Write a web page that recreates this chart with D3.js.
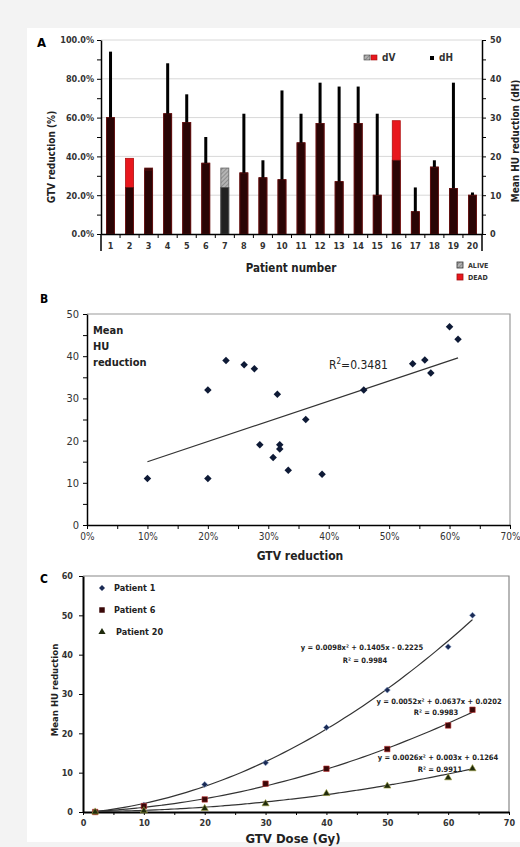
<!DOCTYPE html>
<html>
<head>
<meta charset="utf-8">
<script src="https://cdn.jsdelivr.net/npm/d3@7"></script>
<style>
  body { margin: 0; background: #f3f3f3; }
  svg { display: block; }
  text { font-family: "DejaVu Sans Condensed", "Liberation Sans Narrow", "DejaVu Sans", sans-serif; }
</style>
</head>
<body>
<div id="chart"></div>
<script>
// Panel A data: GTV reduction (%) and mean HU reduction per patient
var patientNo = ["1","2","3","4","5","6","7","8","9","10","11","12","13","14","15","16","17","18","19","20"];
var dvPct = [60, 39, 34, 62, 57.5, 36.5, 34, 31.5, 29, 28, 47, 57, 27, 57, 20, 58.4, 11.5, 34.5, 23.5, 20];
var dhHU = [47, 12, 16.5, 44, 36, 25, 12, 31, 19, 37, 31, 39, 38, 38, 31, 19, 12, 19, 39, 10.7];
var patientStatus = ["", "dead", "", "", "", "", "alive", "", "", "", "", "", "", "", "", "dead", "", "", "", ""];

// Panel B data: scatter GTV reduction vs mean HU reduction
var gtvRed = [10, 20, 20, 23, 26, 27.7, 31.5, 28.6, 30.8, 31.9, 31.9, 36.2, 33.3, 38.9, 45.8, 53.9, 55.9, 56.9, 60, 61.4];
var huRed = [11, 32, 11, 39, 38, 37, 31, 19, 16, 19, 18, 25, 13, 12, 32, 38.2, 39.1, 36, 47, 44];
var trendFit = [10.2, 0.479]; // intercept, slope
var trendRange = [10, 61.4];

// Panel C data: HU reduction vs dose
var dose = [2, 10, 20, 30, 40, 50, 60, 64];
var patient1 = [0, 1.8, 7, 12.5, 21.5, 31, 42, 50];
var patient6 = [0, 1.5, 3.2, 7.2, 11, 16, 22, 26];
var patient20 = [0, 0.3, 0.9, 2.1, 4.7, 6.6, 8.7, 11];
var fit1 = [0.0098, 0.1405, -0.2225];
var fit6 = [0.0052, 0.0637, 0.0202];
var fit20 = [0.0026, 0.003, 0.1264];
var eqLabels = [
  ["y = 0.0098x\u00b2 + 0.1405x - 0.2225", "R\u00b2 = 0.9984"],
  ["y = 0.0052x\u00b2 + 0.0637x + 0.0202", "R\u00b2 = 0.9983"],
  ["y = 0.0026x\u00b2 + 0.003x + 0.1264", "R\u00b2 = 0.9911"]
];

var svgWidth = 520;
var svgHeight = 847;

var svg = d3.select("#chart")
  .append("svg")
  .attr("width", svgWidth)
  .attr("height", svgHeight);

svg.append("rect")
  .attr("x", 27).attr("y", 28)
  .attr("width", 493).attr("height", 814)
  .attr("fill", "#ffffff");

var defs = svg.append("defs");
var hatch = defs.append("pattern")
  .attr("id", "hatch")
  .attr("width", 3).attr("height", 3)
  .attr("patternUnits", "userSpaceOnUse")
  .attr("patternTransform", "rotate(45)");
hatch.append("rect").attr("width", 3).attr("height", 3).attr("fill", "#b4b4b4");
hatch.append("line").attr("x1", 0).attr("y1", 0).attr("x2", 0).attr("y2", 3)
  .attr("stroke", "#666").attr("stroke-width", 1);

function styleAxis(g, size, weight, color) {
  g.selectAll("text")
    .attr("font-size", size)
    .attr("font-weight", weight)
    .attr("fill", color);
  g.selectAll("line").attr("stroke", "#000");
}

// ---------------- Panel A ----------------
var aX = d3.scaleBand().domain(patientNo).range([101, 482]);
var aY = d3.scaleLinear().domain([0, 100]).range([234, 40]);
var aY2 = d3.scaleLinear().domain([0, 50]).range([234, 40]);

var panelA = svg.append("g");

// gridlines
panelA.selectAll(".gridA")
  .data([20, 40, 60, 80, 100])
  .enter()
  .append("line")
  .attr("x1", 101).attr("x2", 482)
  .attr("y1", d => aY(d)).attr("y2", d => aY(d))
  .attr("stroke", "#d8d8d8")
  .attr("stroke-width", 1);

var barGroup = panelA.selectAll(".bar")
  .data(patientNo.map((p, i) => ({ p: p, dv: dvPct[i], dh: dhHU[i] * 2, s: patientStatus[i] })))
  .enter()
  .append("g");

var wideW = 8, thinW = 3;

barGroup.append("rect")
  .attr("x", d => aX(d.p) + aX.bandwidth() / 2 - wideW / 2)
  .attr("width", wideW)
  .attr("y", d => aY(d.dv))
  .attr("height", d => aY(0) - aY(d.dv))
  .attr("fill", d => d.s === "dead" ? "#e8171d" : (d.s === "alive" ? "url(#hatch)" : "#2a0505"))
  .attr("stroke", d => d.s === "dead" ? "#b01010" : (d.s === "alive" ? "#666" : "#6a1414"))
  .attr("stroke-width", 0.8);

barGroup.append("rect")
  .attr("x", d => aX(d.p) + aX.bandwidth() / 2 - wideW / 2)
  .attr("width", wideW)
  .attr("y", d => aY(Math.min(d.dv, d.dh)))
  .attr("height", d => aY(0) - aY(Math.min(d.dv, d.dh)))
  .attr("fill", d => d.s === "alive" ? "#222" : "#2a0505")
  .attr("stroke", d => d.s === "alive" ? "#555" : "#6a1414")
  .attr("stroke-width", 0.8);

barGroup.filter(d => d.dh > d.dv)
  .append("rect")
  .attr("x", d => aX(d.p) + aX.bandwidth() / 2 - thinW / 2)
  .attr("width", thinW)
  .attr("y", d => aY(d.dh))
  .attr("height", d => aY(d.dv) - aY(d.dh))
  .attr("fill", "#000");

// axes
var leftAxisA = panelA.append("g")
  .attr("transform", "translate(101,0)")
  .call(d3.axisLeft(aY)
    .tickValues([0, 10, 20, 30, 40, 50, 60, 70, 80, 90, 100])
    .tickFormat(d => d % 20 === 0 ? d.toFixed(1) + "%" : "")
    .tickSize(4)
    .tickSizeOuter(0)
    .tickPadding(3));
leftAxisA.select(".domain").attr("stroke-width", 1.5);
styleAxis(leftAxisA, 9, "bold", "#333");

var rightAxisA = panelA.append("g")
  .attr("transform", "translate(482,0)")
  .call(d3.axisRight(aY2)
    .tickValues([0, 5, 10, 15, 20, 25, 30, 35, 40, 45, 50])
    .tickFormat(d => d % 10 === 0 ? d : "")
    .tickSize(4)
    .tickSizeOuter(0)
    .tickPadding(4));
rightAxisA.select(".domain").attr("stroke-width", 1.5);
styleAxis(rightAxisA, 9, "bold", "#333");

// extend the two vertical axes below zero
panelA.selectAll(".axisExt")
  .data([101, 482])
  .enter()
  .append("line")
  .attr("x1", d => d).attr("x2", d => d)
  .attr("y1", 234).attr("y2", 251)
  .attr("stroke", "#000").attr("stroke-width", 1.5);

var bottomAxisA = panelA.append("g")
  .attr("transform", "translate(0,234)")
  .call(d3.axisBottom(aX).tickSize(0).tickPadding(9));
bottomAxisA.select(".domain").attr("stroke-width", 1.5);
styleAxis(bottomAxisA, 9, "bold", "#333");

panelA.selectAll(".bandTick")
  .data(patientNo.slice(1))
  .enter()
  .append("line")
  .attr("x1", d => aX(d)).attr("x2", d => aX(d))
  .attr("y1", 234).attr("y2", 238)
  .attr("stroke", "#000");

panelA.append("text")
  .attr("x", 37).attr("y", 47)
  .attr("font-size", 13).attr("font-weight", "bold")
  .text("A");

panelA.append("text")
  .attr("transform", "translate(55,157) rotate(-90)")
  .attr("text-anchor", "middle")
  .attr("font-size", 10).attr("font-weight", "bold").attr("fill", "#222")
  .text("GTV reduction (%)");

panelA.append("text")
  .attr("transform", "translate(519,141) rotate(-90)")
  .attr("text-anchor", "middle")
  .attr("font-size", 10).attr("font-weight", "bold").attr("fill", "#222")
  .text("Mean HU reduction (dH)");

panelA.append("text")
  .attr("x", 291).attr("y", 272)
  .attr("text-anchor", "middle")
  .attr("font-size", 11.5).attr("font-weight", "bold").attr("fill", "#222")
  .text("Patient number");

// legend dV / dH
panelA.append("rect").attr("x", 364).attr("y", 55).attr("width", 6).attr("height", 5)
  .attr("fill", "url(#hatch)").attr("stroke", "#444").attr("stroke-width", 0.6);
panelA.append("rect").attr("x", 371).attr("y", 55).attr("width", 6).attr("height", 5)
  .attr("fill", "#e8171d").attr("stroke", "#a01010").attr("stroke-width", 0.6);
panelA.append("text").attr("x", 382).attr("y", 61)
  .attr("font-size", 10).attr("font-weight", "bold").attr("fill", "#333").text("dV");
panelA.append("rect").attr("x", 430).attr("y", 56).attr("width", 4).attr("height", 4).attr("fill", "#000");
panelA.append("text").attr("x", 439).attr("y", 61)
  .attr("font-size", 10).attr("font-weight", "bold").attr("fill", "#333").text("dH");

// legend ALIVE / DEAD
panelA.append("rect").attr("x", 457).attr("y", 262).attr("width", 6).attr("height", 6)
  .attr("fill", "url(#hatch)").attr("stroke", "#333").attr("stroke-width", 0.8);
panelA.append("text").attr("x", 468).attr("y", 268)
  .attr("font-size", 7).attr("font-weight", "bold").attr("fill", "#333").text("ALIVE");
panelA.append("rect").attr("x", 457).attr("y", 274).attr("width", 6).attr("height", 6)
  .attr("fill", "#e8171d").attr("stroke", "#a01010").attr("stroke-width", 0.8);
panelA.append("text").attr("x", 468).attr("y", 280)
  .attr("font-size", 7).attr("font-weight", "bold").attr("fill", "#333").text("DEAD");

// ---------------- Panel B ----------------
var bX = d3.scaleLinear().domain([0, 70]).range([87, 510]);
var bY = d3.scaleLinear().domain([0, 50]).range([525, 314]);

var panelB = svg.append("g");

panelB.append("path")
  .attr("d", `M${bX(0)},${bY(50)}H${bX(70)}V${bY(0)}`)
  .attr("fill", "none").attr("stroke", "#999").attr("stroke-width", 1.2);

var leftAxisB = panelB.append("g")
  .attr("transform", `translate(${bX(0)},0)`)
  .call(d3.axisLeft(bY)
    .tickValues([0, 5, 10, 15, 20, 25, 30, 35, 40, 45, 50])
    .tickFormat(d => d % 10 === 0 ? d : "")
    .tickSize(4).tickSizeOuter(0).tickPadding(4));
leftAxisB.select(".domain").attr("stroke-width", 1.5);
styleAxis(leftAxisB, 11, "normal", "#333");

var bottomAxisB = panelB.append("g")
  .attr("transform", `translate(0,${bY(0)})`)
  .call(d3.axisBottom(bX)
    .tickValues([0, 5, 10, 15, 20, 25, 30, 35, 40, 45, 50, 55, 60, 65, 70])
    .tickFormat(d => d % 10 === 0 ? d + "%" : "")
    .tickSize(4).tickSizeOuter(0).tickPadding(4));
bottomAxisB.select(".domain").attr("stroke-width", 1.5);
styleAxis(bottomAxisB, 10, "normal", "#333");

panelB.append("line")
  .attr("x1", bX(trendRange[0])).attr("x2", bX(trendRange[1]))
  .attr("y1", bY(trendFit[0] + trendFit[1] * trendRange[0]))
  .attr("y2", bY(trendFit[0] + trendFit[1] * trendRange[1]))
  .attr("stroke", "#333").attr("stroke-width", 1.3);

panelB.selectAll(".ptB")
  .data(gtvRed.map((g, i) => [g, huRed[i]]))
  .enter()
  .append("path")
  .attr("d", d3.symbol(d3.symbolSquare, 28))
  .attr("transform", d => `translate(${bX(d[0])},${bY(d[1])}) rotate(45)`)
  .attr("fill", "#0e1a36");

panelB.append("text")
  .attr("x", 40).attr("y", 303)
  .attr("font-size", 12).attr("font-weight", "bold").text("B");

panelB.selectAll(".muLabel")
  .data(["Mean", "HU", "reduction"])
  .enter()
  .append("text")
  .attr("x", 93).attr("y", (d, i) => 334 + i * 16)
  .attr("font-size", 11).attr("font-weight", "bold").attr("fill", "#222")
  .text(d => d);

var r2 = panelB.append("text")
  .attr("x", 329).attr("y", 369)
  .attr("font-size", 12).attr("fill", "#222");
r2.append("tspan").text("R");
r2.append("tspan").attr("dy", -5).attr("font-size", 8).text("2");
r2.append("tspan").attr("dy", 5).text("=0.3481");

panelB.append("text")
  .attr("x", 300).attr("y", 560)
  .attr("text-anchor", "middle")
  .attr("font-size", 12).attr("font-weight", "bold").attr("fill", "#222")
  .text("GTV reduction");

// ---------------- Panel C ----------------
var cX = d3.scaleLinear().domain([0, 70]).range([83, 509]);
var cY = d3.scaleLinear().domain([0, 60]).range([812, 576]);

var panelC = svg.append("g");

panelC.append("path")
  .attr("d", `M${cX(0)},${cY(60)}H${cX(70)}V${cY(0)}`)
  .attr("fill", "none").attr("stroke", "#888").attr("stroke-width", 1.2);

var leftAxisC = panelC.append("g")
  .attr("transform", `translate(${cX(0)},0)`)
  .call(d3.axisLeft(cY)
    .tickValues([0, 10, 20, 30, 40, 50, 60])
    .tickSize(4).tickSizeOuter(0).tickPadding(6));
leftAxisC.select(".domain").attr("stroke-width", 2);
styleAxis(leftAxisC, 9, "bold", "#333");

var bottomAxisC = panelC.append("g")
  .attr("transform", `translate(0,${cY(0)})`)
  .call(d3.axisBottom(cX)
    .tickValues([0, 5, 10, 15, 20, 25, 30, 35, 40, 45, 50, 55, 60, 65, 70])
    .tickFormat(d => d % 10 === 0 ? d : "")
    .tickSize(3).tickSizeOuter(0).tickPadding(5));
bottomAxisC.select(".domain").attr("stroke-width", 2);
styleAxis(bottomAxisC, 9, "bold", "#333");

var curveLine = d3.line()
  .x(d => cX(d[0]))
  .y(d => cY(d[1]))
  .curve(d3.curveBasis);

[fit1, fit6, fit20].forEach(function(c) {
  var xs = d3.range(dose[0], dose[dose.length - 1] + 0.01, 1);
  panelC.append("path")
    .datum(xs.map(x => [x, c[0] * x * x + c[1] * x + c[2]]))
    .attr("d", curveLine)
    .attr("fill", "none")
    .attr("stroke", "#333")
    .attr("stroke-width", 1.2);
});

var seriesC = [
  { vals: patient1, sym: d3.symbolSquare, size: 18, rot: 45, fill: "#1b2b55", stroke: "#8aa0c8" },
  { vals: patient6, sym: d3.symbolSquare, size: 30, rot: 0, fill: "#3a0808", stroke: "#c03030" },
  { vals: patient20, sym: d3.symbolTriangle, size: 22, rot: 0, fill: "#1f2a0c", stroke: "#a0a040" }
];

seriesC.forEach(function(s) {
  panelC.selectAll(null)
    .data(dose.map((x, i) => [x, s.vals[i]]))
    .enter()
    .append("path")
    .attr("d", d3.symbol(s.sym, s.size))
    .attr("transform", d => `translate(${cX(d[0])},${cY(d[1])}) rotate(${s.rot})`)
    .attr("fill", s.fill)
    .attr("stroke", s.stroke)
    .attr("stroke-width", 0.6);
});

// legend C
var legendC = ["Patient 1", "Patient 6", "Patient 20"];
legendC.forEach(function(name, i) {
  var s = seriesC[i];
  var y = 588 + i * 22;
  panelC.append("path")
    .attr("d", d3.symbol(s.sym, s.size))
    .attr("transform", `translate(102,${y}) rotate(${s.rot})`)
    .attr("fill", s.fill);
  panelC.append("text")
    .attr("x", i === 2 ? 116 : 114).attr("y", y + 3)
    .attr("font-size", 9).attr("font-weight", "bold").attr("fill", "#222")
    .text(name);
});

// equation labels
var eqPos = [[362, 650, 365, 663], [439, 704, 436, 715], [438, 760, 440, 772]];
eqLabels.forEach(function(lab, i) {
  var p = eqPos[i];
  panelC.append("text")
    .attr("x", p[0]).attr("y", p[1])
    .attr("text-anchor", "middle")
    .attr("font-size", 7.5).attr("font-weight", "bold").attr("fill", "#222")
    .text(lab[0]);
  panelC.append("text")
    .attr("x", p[2]).attr("y", p[3])
    .attr("text-anchor", "middle")
    .attr("font-size", 7.5).attr("font-weight", "bold").attr("fill", "#222")
    .text(lab[1]);
});

panelC.append("text")
  .attr("x", 40).attr("y", 583)
  .attr("font-size", 12).attr("font-weight", "bold").text("C");

panelC.append("text")
  .attr("transform", "translate(58,690) rotate(-90)")
  .attr("text-anchor", "middle")
  .attr("font-size", 9.5).attr("font-weight", "bold").attr("fill", "#222")
  .text("Mean HU reduction");

panelC.append("text")
  .attr("x", 293).attr("y", 843)
  .attr("text-anchor", "middle")
  .attr("font-size", 13).attr("font-weight", "bold").attr("fill", "#222")
  .text("GTV Dose (Gy)");
</script>
</body>
</html>
